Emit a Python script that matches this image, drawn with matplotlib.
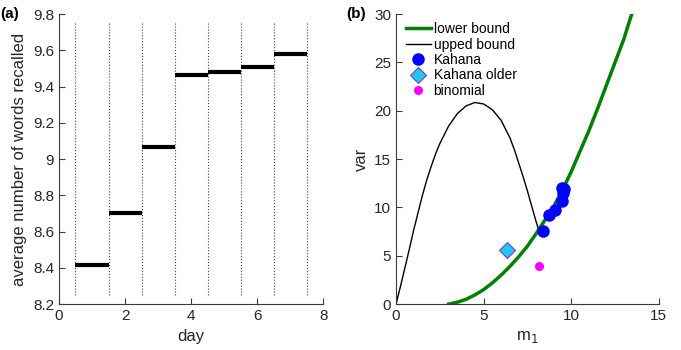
import matplotlib
matplotlib.use("Agg")
import matplotlib.pyplot as plt

plt.rcParams['font.family'] = ['Liberation Sans', 'DejaVu Sans']

# panel (a): mean words recalled per day
days = [1, 2, 3, 4, 5, 6, 7]
mean_recalled = [8.415, 8.705, 9.065, 9.465, 9.48, 9.51, 9.58]
day_edges = [0.5, 1.5, 2.5, 3.5, 4.5, 5.5, 6.5, 7.5]

# panel (b): bounds
lower_m = [3.0, 3.5, 4.0, 4.5, 5.0, 5.5, 6.0, 6.5, 7.0, 7.5, 8.0, 8.5, 9.0,
           9.5, 10.0, 10.5, 11.0, 11.5, 12.0, 12.5, 13.0, 13.45]
lower_v = [0.0, 0.2, 0.5, 0.95, 1.5, 2.2, 3.0, 3.9, 4.9, 6.0, 7.3, 8.7, 10.1,
           11.8, 13.7, 15.8, 17.9, 20.2, 22.6, 25.0, 27.4, 30.0]
upper_m = [0.0, 0.25, 0.5, 0.75, 1.0, 1.25, 1.5, 1.75, 2.0, 2.25, 2.5, 2.75,
           3.0, 3.5, 4.0, 4.5, 5.0, 5.5, 6.0, 6.5, 6.75, 7.0, 7.25, 7.5,
           7.75, 8.0, 8.12]
upper_v = [0.0, 1.8, 3.7, 5.6, 7.6, 9.4, 11.2, 12.8, 14.2, 15.5, 16.6, 17.5,
           18.4, 19.7, 20.5, 20.85, 20.7, 20.1, 19.0, 17.2, 16.0, 14.6, 13.2,
           11.7, 10.1, 8.5, 7.8]
kahana_m = [8.415, 8.705, 9.065, 9.465, 9.48, 9.51, 9.58]
kahana_v = [7.6, 9.25, 9.75, 10.7, 12.0, 11.5, 11.9]
older_m, older_v = [6.34], [5.55]
binom_m, binom_v = [8.15], [3.97]

axc = '#3a3a3a'
fig = plt.figure(figsize=(6.81, 3.5), dpi=100)
ax1 = fig.add_axes([0.0866, 0.131, 0.388, 0.829])
ax2 = fig.add_axes([0.5815, 0.131, 0.386, 0.829])

for ax in (ax1, ax2):
    for s in ('top', 'right'):
        ax.spines[s].set_visible(False)
    for s in ('left', 'bottom'):
        ax.spines[s].set_color(axc)
        ax.spines[s].set_linewidth(0.8)
    ax.tick_params(direction='in', length=4, width=0.8, colors=axc,
                   labelsize=11, labelcolor='#262626')

# (a)
for x in day_edges:
    ax1.plot([x, x], [8.25, 9.75], ':', color='#444444', lw=0.8)
for d, v in zip(days, mean_recalled):
    ax1.plot([d - 0.5, d + 0.5], [v, v], '-', color='k', lw=3,
             solid_capstyle='butt')
ax1.set_xlim(0, 8)
ax1.set_ylim(8.2, 9.8)
ax1.set_xticks([0, 2, 4, 6, 8])
ax1.set_yticks([8.2, 8.4, 8.6, 8.8, 9.0, 9.2, 9.4, 9.6, 9.8])
ax1.set_yticklabels(['8.2', '8.4', '8.6', '8.8', '9', '9.2', '9.4', '9.6', '9.8'])
ax1.set_xlabel('day', fontsize=12, color='#262626')
ax1.set_ylabel('average number of words recalled', fontsize=12, color='#262626')
fig.text(0.0, 0.96, '(a)', fontsize=11, fontweight='bold', va='center')

# (b)
ax2.plot(lower_m, lower_v, '-', color='#008000', lw=2.5, label='lower bound')
ax2.plot(upper_m, upper_v, '-', color='k', lw=1.0, label='upped bound')
ax2.plot(kahana_m, kahana_v, 'o', color='#0000ff', ms=8, ls='none',
         label='Kahana')
ax2.plot(older_m, older_v, 'D', mfc='#1ec8f0', mec='#8040b0', ms=8, mew=0.8,
         ls='none', label='Kahana older')
ax2.plot(binom_m, binom_v, 'o', color='#ff00ff', ms=5.5, ls='none',
         label='binomial')
ax2.set_xlim(0, 15)
ax2.set_ylim(0, 30)
ax2.set_xticks([0, 5, 10, 15])
ax2.set_yticks([0, 5, 10, 15, 20, 25, 30])
ax2.set_xlabel('m$_1$', fontsize=12, color='#262626')
ax2.set_ylabel('var', fontsize=12, color='#262626')
ax2.legend(loc='upper left', frameon=False, fontsize=10, handlelength=1.8,
           handletextpad=0.2, borderaxespad=0.3, labelspacing=0.1,
           bbox_to_anchor=(0.0, 1.005))
fig.text(0.508, 0.96, '(b)', fontsize=11, fontweight='bold', va='center')

fig.savefig('out.png', dpi=100)
